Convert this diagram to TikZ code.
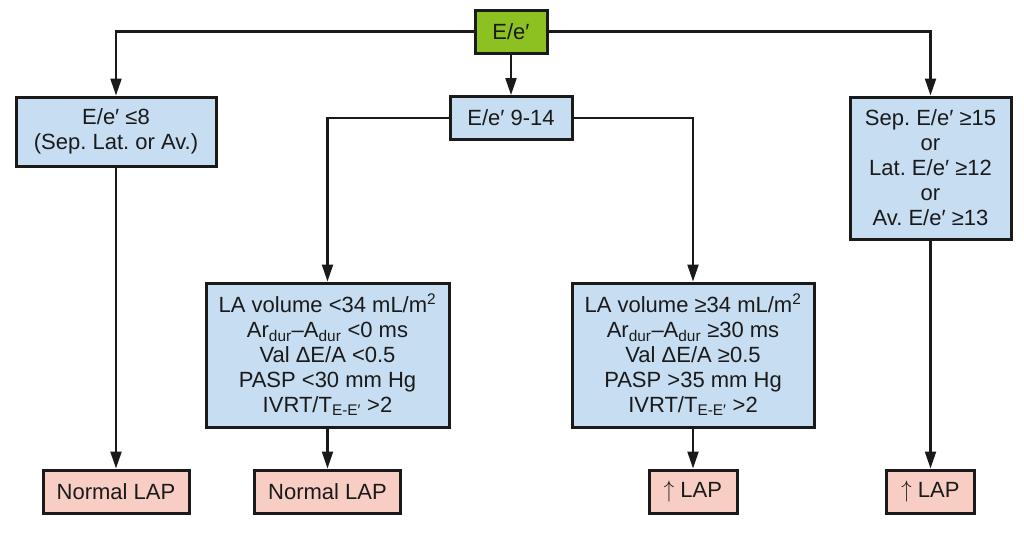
\documentclass[tikz,border=0pt]{standalone}
\usepackage{fontspec}
\setmainfont{Liberation Sans}
\usetikzlibrary{arrows.meta}
\definecolor{grn}{RGB}{141,193,33}
\definecolor{blu}{RGB}{198,221,242}
\definecolor{pnk}{RGB}{247,205,196}
\definecolor{edge}{RGB}{26,26,26}
\frenchspacing
\newcommand{\upar}{\raisebox{0.5pt}{\scalebox{1}[1.15]{$\uparrow$}}}
\begin{document}
\begin{tikzpicture}[x=1pt,y=-1pt,
  box/.style={draw=edge,line width=3pt,inner sep=0pt,align=center,
    font=\fontsize{22}{25}\selectfont,text=edge},
  gbox/.style={box,fill=grn},
  bbox/.style={box,fill=blu},
  pbox/.style={box,fill=pnk,minimum height=43pt},
  conn/.style={draw=edge,line width=2.2pt,-{Triangle[length=17pt,width=11pt]}}]
\useasboundingbox[fill=white] (0,0) rectangle (1024,546);
% nodes
\node[gbox,minimum width=72pt,minimum height=43pt] (top) at (511,31.5) {E/e′};
\node[bbox,minimum width=200pt,minimum height=69pt] (left) at (116,131.5)
  {E/e′ ≤8\\(Sep. Lat. or Av.)};
\node[bbox,minimum width=122pt,minimum height=43pt] (mid) at (511,118) {E/e′ 9-14};
\node[bbox,minimum width=161pt,minimum height=142pt] (right) at (930.5,168)
  {Sep. E/e′ ≥15\\or\\Lat. E/e′ ≥12\\or\\Av. E/e′ ≥13};
\node[bbox,minimum width=243pt,minimum height=144pt] (ml) at (327.5,355)
  {LA volume <34 mL/m\textsuperscript{2}\\
   Ar\textsubscript{dur}–A\textsubscript{dur} <0 ms\\
   Val ΔE/A <0.5\\
   PASP <30 mm Hg\\
   IVRT/T\textsubscript{E-E′} >2};
\node[bbox,minimum width=242pt,minimum height=144pt] (mr) at (693,355)
  {LA volume ≥34 mL/m\textsuperscript{2}\\
   Ar\textsubscript{dur}–A\textsubscript{dur} ≥30 ms\\
   Val ΔE/A ≥0.5\\
   PASP >35 mm Hg\\
   IVRT/T\textsubscript{E-E′} >2};
\node[pbox,minimum width=146pt] (b1) at (116,491.5) {Normal LAP};
\node[pbox,minimum width=146pt] (b2) at (327.5,491.5) {Normal LAP};
\node[pbox,minimum width=88pt] (b3) at (693,491.5) {\upar{} LAP};
\node[pbox,minimum width=88pt] (b4) at (930.5,491.5) {\upar{} LAP};
% connectors
\draw[conn] (top.west) -| (left.north);
\draw[conn] (top.east) -| (right.north);
\draw[conn] (top.south) -- (mid.north);
\draw[conn] (mid.west) -| (ml.north);
\draw[conn] (mid.east) -| (mr.north);
\draw[conn] (left.south) -- (b1.north);
\draw[conn] (ml.south) -- (b2.north);
\draw[conn] (mr.south) -- (b3.north);
\draw[conn] (right.south) -- (b4.north);
\end{tikzpicture}
\end{document}
